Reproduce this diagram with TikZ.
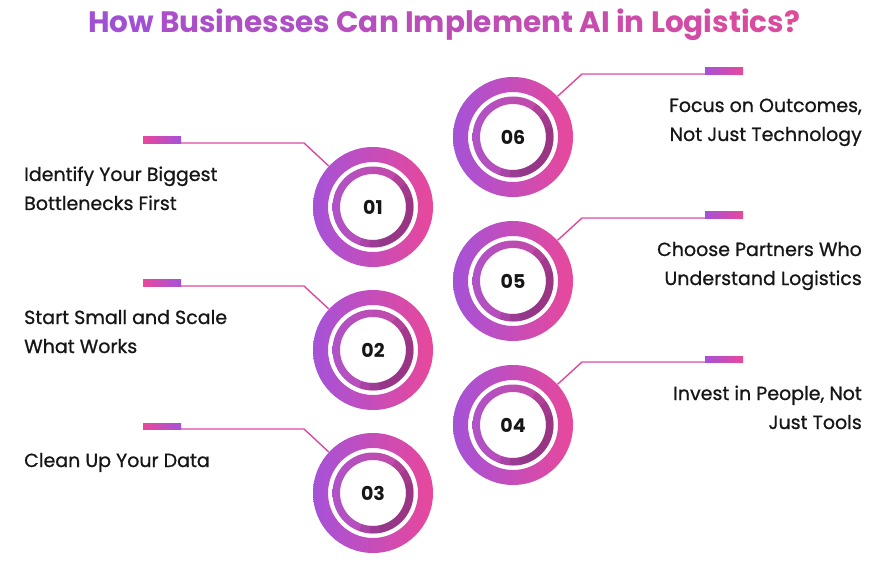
\documentclass[tikz,border=0pt]{standalone}
\usepackage{fontspec}
\setmainfont{Poppins}
\newfontfamily\medfont{Poppins}[BoldFont=*,BoldFeatures={FakeBold=0.8}]
\usetikzlibrary{calc}
\definecolor{cpurple}{HTML}{A552D8}
\definecolor{cpink}{HTML}{E8489A}
\definecolor{cline}{HTML}{DC4A9E}
\definecolor{cinA}{HTML}{B052C8}
\definecolor{cinB}{HTML}{C8479E}
\definecolor{cdark}{HTML}{6E2468}
\definecolor{ctxt}{HTML}{161616}
\definecolor{tA}{HTML}{A050D2}
\definecolor{tB}{HTML}{E04A98}
\begin{document}
\begin{tikzpicture}[x=1pt,y=-1pt,
  lbl/.style={font=\medfont\bfseries\fontsize{19}{29}\selectfont, text=ctxt, inner sep=0pt},
  conn/.style={draw=cline, line width=1.4pt},
  numnode/.style={circle, minimum size=120pt, inner sep=0pt, font=\bfseries\fontsize{19}{19}\selectfont, text=ctxt},
  titlefont/.style={font=\bfseries\fontsize{29.5}{30}\selectfont, inner sep=0pt}]
\useasboundingbox[fill=white] (0,0) rectangle (891,569);

% title
\node[titlefont, anchor=base] (title) at (444,33) {%
\textcolor{tA}{How} \textcolor{tB!15!tA}{Busi}\textcolor{tB!22!tA}{nesses} \textcolor{tB!34!tA}{Can} \textcolor{tB!44!tA}{Imple}\textcolor{tB!53!tA}{ment} \textcolor{tB!63!tA}{AI} \textcolor{tB!70!tA}{in} \textcolor{tB!78!tA}{Logi}\textcolor{tB!88!tA}{stics}\textcolor{tB}{?}};

% connector bend points
\foreach \n/\cy in {1/207,2/350,3/493}{
  \coordinate (a\n) at (181,\cy-64);
  \coordinate (b\n) at (304,\cy-64);
}
\foreach \n/\cy in {6/137,5/281,4/425}{
  \coordinate (p\n) at (582,\cy-63);
  \coordinate (q\n) at (705,\cy-63);
}

% rings
\foreach \n/\cx/\cy in {1/373/207,2/373/350,3/373/493,6/513/137,5/513/281,4/513/425}{
  \path[left color=cpurple,right color=cpink,even odd rule] (\cx,\cy) circle[radius=60pt] (\cx,\cy) circle[radius=45pt];
  \path[left color=cinA,right color=cinB,even odd rule] (\cx,\cy) circle[radius=40.5pt] (\cx,\cy) circle[radius=33pt];
  \draw[cdark,line width=7.5pt,opacity=0.22] ($(\cx,\cy)+(55:36.75pt)$) arc[start angle=55,end angle=-110,radius=36.75pt];
  \draw[cdark,line width=7.5pt,opacity=0.22] ($(\cx,\cy)+(35:36.75pt)$) arc[start angle=35,end angle=-95,radius=36.75pt];
  \draw[cdark,line width=7.5pt,opacity=0.18] ($(\cx,\cy)+(15:36.75pt)$) arc[start angle=15,end angle=-80,radius=36.75pt];
  \node[numnode] (c\n) at (\cx,\cy) {0\n};
}

\foreach \n/\cy in {1/207,2/350,3/493}{
  \draw[conn] (a\n) -- (b\n) -- (c\n);
  \path[left color=cpink,right color=cpurple] (143,\cy-70) rectangle (181,\cy-63.5);
}
\foreach \n/\cy in {6/137,5/281,4/425}{
  \draw[conn] (c\n) -- (p\n) -- (q\n);
  \path[left color=cpurple,right color=cpink] (705,\cy-69) rectangle (743,\cy-62.5);
}

% labels (base anchor = last line's baseline)
\node[lbl, anchor=base west, align=left] (t1) at (24,210) {Identify Your Biggest\\Bottlenecks First};
\node[lbl, anchor=base west, align=left] (t2) at (24,353) {Start Small and Scale\\What Works};
\node[lbl, anchor=base west, align=left] (t3) at (24,467) {Clean Up Your Data};
\node[lbl, anchor=base east, align=right] (t6) at (862,141) {Focus on Outcomes,\\Not Just Technology};
\node[lbl, anchor=base east, align=right] (t5) at (862,285) {Choose Partners Who\\Understand Logistics};
\node[lbl, anchor=base east, align=right] (t4) at (862,429) {Invest in People, Not\\Just Tools};
\end{tikzpicture}
\end{document}
